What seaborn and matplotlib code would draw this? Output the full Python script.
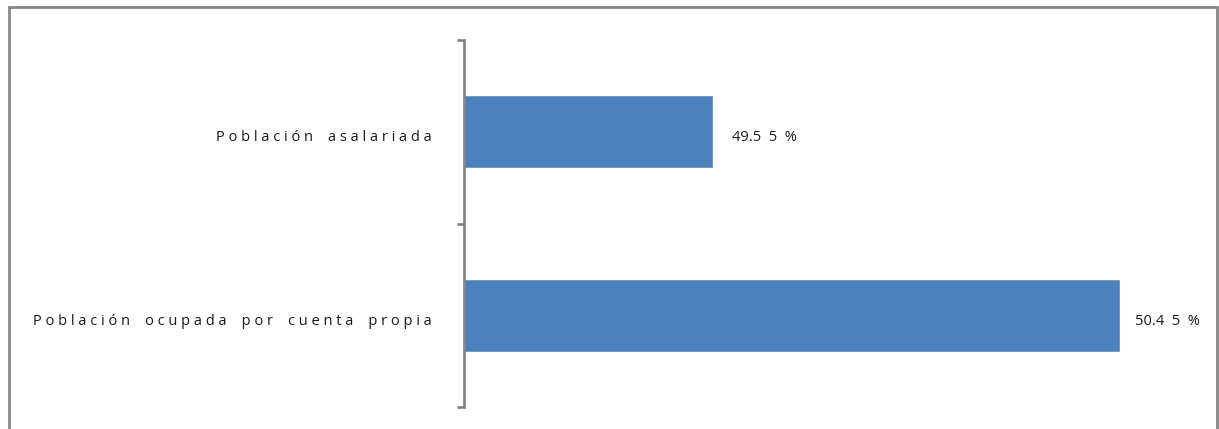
import matplotlib
matplotlib.use("Agg")
import matplotlib.pyplot as plt
import matplotlib.transforms as mtransforms
import seaborn as sns
import pandas as pd
from matplotlib.patches import Rectangle

categories = ["Población asalariada", "Población ocupada por cuenta propia"]
values = [49.55, 50.45]

sns.set_theme(style="white")
plt.rcParams['font.family'] = ['Open Sans', 'DejaVu Sans']

def spaced(s):
    return "    ".join(" ".join(w) for w in s.split(" "))

def value_label(v):
    s = f"{v:.2f}%"
    return s[:4] + "  " + "  ".join(s[4:])

df = pd.DataFrame({"cat": categories, "val": values})

fig = plt.figure(figsize=(12.19, 4.29), dpi=100)
W, H = 1219, 429
ax = fig.add_axes([464 / W, 1 - 407 / H, (1188 - 464) / W, (407 - 40) / H])

sns.barplot(data=df, x="val", y="cat", orient="h", color="#4F81BD",
            saturation=1, width=0.4, ax=ax)

ax.set_xlim(49.0, 50.6)
ax.set_ylim(1.5, -0.5)
ax.set_xlabel("")
ax.set_ylabel("")
ax.set_xticks([])

ax.set_yticks(range(len(categories)))
ax.set_yticklabels([spaced(c) for c in categories], fontsize=10.5, color="#1a1a1a")
ax.set_yticks([-0.5, 0.5, 1.5], minor=True)
ax.tick_params(axis="y", which="major", length=0, pad=23)
ax.tick_params(axis="y", which="minor", length=5, width=2, color="#868686", left=True)
shift = mtransforms.ScaledTranslation(0, -4 / 100, fig.dpi_scale_trans)
for lab in ax.get_yticklabels():
    lab.set_transform(lab.get_transform() + shift)

for side in ["top", "right", "bottom"]:
    ax.spines[side].set_visible(False)
ax.spines["left"].set_color("#868686")
ax.spines["left"].set_linewidth(2)

for i, v in enumerate(values):
    ax.annotate(value_label(v), xy=(v, i), xytext=(15 if i else 19, -6),
                textcoords="offset pixels", va="center", ha="left",
                fontsize=10.5, color="#1a1a1a")

frame = Rectangle((9 / W, -0.05), (1217 - 9) / W, 1 - 7 / H + 0.05,
                  transform=fig.transFigure, fill=False,
                  edgecolor="#868686", linewidth=2, clip_on=False)
fig.patches.append(frame)

fig.savefig("out.png", dpi=100, facecolor="white")
